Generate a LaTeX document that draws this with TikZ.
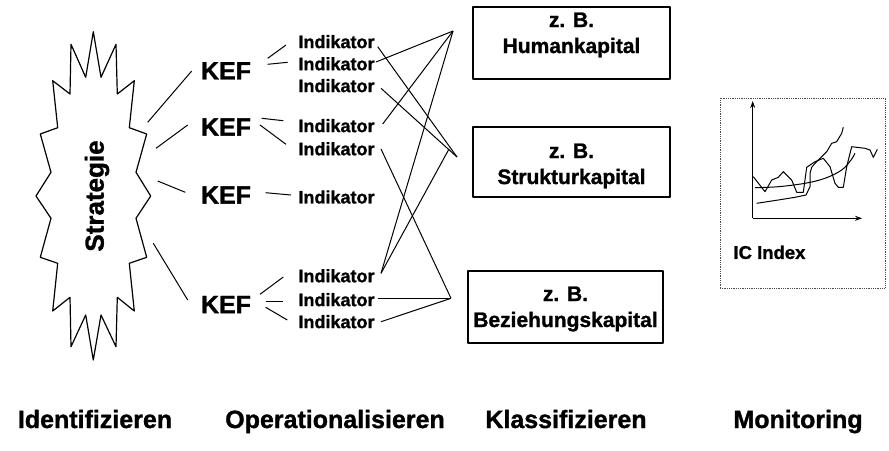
\documentclass[tikz,border=0pt]{standalone}
\usepackage{fontspec}
\setmainfont{Liberation Sans}[BoldFeatures={FakeBold=1.2}]
\usetikzlibrary{calc,arrows.meta}
\newcommand{\bfsz}[1]{\fontsize{#1}{#1}\selectfont\bfseries}
\begin{document}
\begin{tikzpicture}[x=1pt,y=-1pt,line width=1pt,line join=round,
  kef/.style={inner sep=0pt,font=\bfsz{25}},
  ind/.style={inner sep=1pt,anchor=west,font=\bfsz{18}},
  capbox/.style={draw,line width=1.2pt,inner sep=0pt,minimum width=197pt,minimum height=72pt},
  captext/.style={align=center,inner sep=0pt,font=\fontsize{21}{26}\selectfont\bfseries},
  phase/.style={inner sep=0pt,anchor=base,font=\bfsz{25}},
  curve/.style={line width=1pt},
  axisarrow/.style={line width=1pt,-{Stealth[length=7pt,width=5pt]}}]
\useasboundingbox (0,0) rectangle (889,450);

% jagged outline around the strategy
\draw[line width=1.2pt,fill=white]
  (93.3,31.7) -- (101,77.3) -- (116,44.3) -- (117.3,94) -- (134.3,80.7)
  -- (129.3,127.7) -- (146.7,134) -- (136,172.3) -- (150.7,196)
  -- (136,218.3) -- (146.7,257.3) -- (129.3,263.3) -- (134.3,311)
  -- (117.3,297.3) -- (116,346.7) -- (101,315) -- (93.3,360)
  -- (85.7,315) -- (71,346.7) -- (70,297.3) -- (52.7,311)
  -- (57.7,263.3) -- (40.3,257.3) -- (51,218.3) -- (36,196)
  -- (51,172.3) -- (40.3,134) -- (57.7,127.7) -- (52.7,80.7)
  -- (70,94) -- (71,44.3) -- (85.7,77.3) -- cycle;
\node[inner sep=0pt,rotate=90,font=\bfsz{26}] (strat) at (97,196) {Strategie};

% success factors
\node[kef] (k1) at (226,70.8) {KEF};
\node[kef] (k2) at (226,127) {KEF};
\node[kef] (k3) at (226,195) {KEF};
\node[kef] (k4) at (226,304.5) {KEF};

% indicators
\node[ind] (i1) at (297,41.7) {Indikator};
\node[ind] (i2) at (297,63.8) {Indikator};
\node[ind] (i3) at (297,85.7) {Indikator};
\node[ind] (i4) at (297,125.7) {Indikator};
\node[ind] (i5) at (297,148.8) {Indikator};
\node[ind] (i6) at (297,197) {Indikator};
\node[ind] (i7) at (297,275.8) {Indikator};
\node[ind] (i8) at (297,299.7) {Indikator};
\node[ind] (i9) at (297,321.7) {Indikator};

% capital classes
\node[capbox] (hbox) at (571.5,43) {};
\node[capbox,minimum height=70pt] (sbox) at (571.5,162) {};
\node[capbox,minimum width=195pt] (bbox) at (565.5,307) {};
\node[captext] (htext) at ($(hbox)+(0,-8)$) {z. B.\\Humankapital};
\node[captext] (stext) at ($(sbox)+(0,4)$) {z. B.\\Strukturkapital};
\node[captext] (btext) at ($(bbox)+(0,2)$) {z. B.\\Beziehungskapital};

% meeting points of the indicator links
\coordinate (hJ) at (453,31);
\coordinate (sJ) at (457,157);
\coordinate (sJ2) at (449,149);
\coordinate (bJ) at (451,298.3);

% strategy -> KEF
\draw ($(strat)+(50.7,-73.7)$) -- ($(k1)+(-34.3,0.2)$);
\draw ($(strat)+(59,-47.7)$) -- ($(k2)+(-38.3,-2)$);
\draw ($(strat)+(60.7,-15)$) -- ($(k3)+(-40.7,-2.7)$);
\draw ($(strat)+(56.3,47.3)$) -- ($(k4)+(-38.3,-4.5)$);

% KEF -> indicators
\draw ($(k1)+(41.7,-12.5)$) -- ($(i1.west)+(-11,3.3)$);
\draw ($(k1)+(41.7,-6.5)$) -- ($(i2.west)+(-9.3,-1.5)$);
\draw ($(k2)+(35.7,-8.7)$) -- ($(i4.west)+(-13.7,-5)$);
\draw ($(k2)+(34,-2)$) -- ($(i5.west)+(-11,-4.5)$);
\draw ($(k3)+(39.7,-2.3)$) -- ($(i6.west)+(-6,-2)$);
\draw ($(k4)+(34,-10.2)$) -- ($(i7.west)+(-13.7,1.2)$);
\draw ($(k4)+(39.7,-3.5)$) -- ($(i8.west)+(-13.7,1.3)$);
\draw ($(k4)+(39.7,2.8)$) -- ($(i9.west)+(-9.7,-1.7)$);

% indicators -> capital classes
\draw ($(i1.east)+(1.7,5)$) -- (sJ);
\draw ($(i2.east)+(0,-1.8)$) -- (hJ);
\draw ($(i3.east)+(5,2.6)$) -- (sJ);
\draw ($(i4.east)+(6.7,-1.7)$) -- (hJ);
\draw ($(i5.east)+(5,0.2)$) -- (bJ);
\draw ($(i7.east)+(5,-2.5)$) -- (hJ);
\draw ($(i7.east)+(5,-2.5)$) -- (sJ2);
\draw ($(i8.east)+(1.7,-1.4)$) -- (bJ);
\draw ($(i9.east)+(5,0)$) -- (bJ);

% monitoring chart
\node[draw=black!70,densely dotted,line width=0.8pt,minimum width=165pt,minimum height=190pt,inner sep=0pt] (mon) at (802.5,193) {};
\coordinate (org) at (752.7,218.3);
\coordinate (ytop) at (752.7,101);
\coordinate (xend) at (862,218.3);
\draw[axisarrow] (org) -- (ytop);
\draw[axisarrow] (org) -- (xend);
\draw[curve] plot[smooth,tension=0.6] coordinates {(755,187.7) (778.3,186.7) (805,183.3) (825,178.3) (841.7,170) (851,160) (855,153.3)};
\draw[curve] plot coordinates {(753.3,176.7) (765,191.7) (771.7,180) (778.3,177.3) (783.3,171.7) (791.7,180) (796.7,192.3) (803.3,192.3) (806.7,167.3) (815,161.7) (823.3,158.3) (830,166.7) (835,183.3) (838.3,187.3) (843.3,187.3) (846.7,166.7) (851.7,146.7) (865,148.3) (870,150) (873.3,157.3) (877.3,149.3)};
\draw[curve] plot coordinates {(756.7,203.3) (778.3,200) (795,197.3) (806,195) (810,186.7) (810,173.3) (811.7,167.3) (815,163.3) (820,158.3) (826.7,151.7) (831.7,143.3) (836.7,141.7) (841.7,133.3) (843.3,127.3)};
\node[inner sep=1pt,anchor=west,font=\bfsz{18.5}] (ic) at (732,252.3) {IC Index};

% phase labels
\node[phase] (p1) at (95,428) {Identifizieren};
\node[phase] (p2) at (335,428) {Operationalisieren};
\node[phase] (p3) at (566,428) {Klassifizieren};
\node[phase] (p4) at (798,428) {Monitoring};
\end{tikzpicture}
\end{document}
